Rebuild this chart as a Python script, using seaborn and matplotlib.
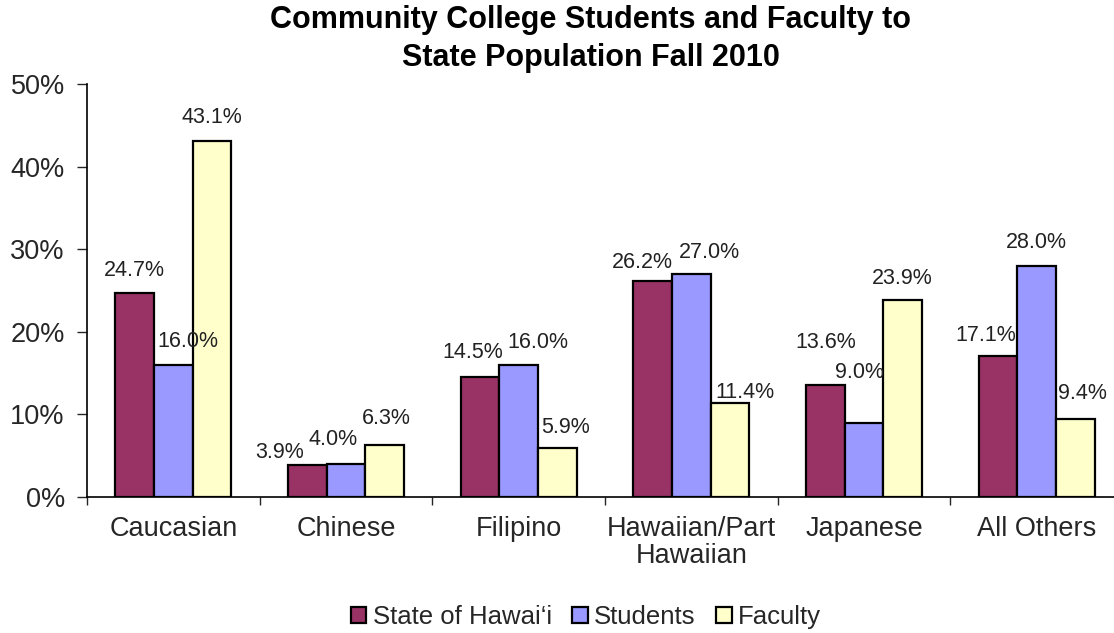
import matplotlib
matplotlib.use("Agg")
import matplotlib.pyplot as plt
import seaborn as sns
import pandas as pd
import numpy as np
from matplotlib.patches import Patch

categories = ["Caucasian", "Chinese", "Filipino", "Hawaiian/Part\nHawaiian", "Japanese", "All Others"]
series_names = ["State of Hawai\u2018i", "Students", "Faculty"]
state_vals = [24.7, 3.9, 14.5, 26.2, 13.6, 17.1]
student_vals = [16.0, 4.0, 16.0, 27.0, 9.0, 28.0]
faculty_vals = [43.1, 6.3, 5.9, 11.4, 23.9, 9.4]
colors = ["#993366", "#9999FF", "#FFFFCC"]

# label placement tweaks (pixels, relative to bar top centre), per series
label_dx = [[0, -28, -7, -10, 0, -12],
            [15, -13, 19, 18, -5, 0],
            [0, 2, 8, 15, 0, 7]]
label_dy = [[22, 12, 25, 18, 42, 20],
            [23, 24, 22, 21, 50, 23],
            [23, 26, 21, 10, 21, 26]]

rows = []
for name, vals in zip(series_names, [state_vals, student_vals, faculty_vals]):
    for c, v in zip(categories, vals):
        rows.append({"cat": c, "series": name, "val": v})
df = pd.DataFrame(rows)

sns.set_style("white")
plt.rcParams['font.family'] = ['Liberation Sans', 'DejaVu Sans']

fig = plt.figure(figsize=(11.14, 6.33), dpi=100)
ax = fig.add_axes([87 / 1114, 1 - 497 / 633, 1036 / 1114, 413 / 633])

sns.barplot(data=df, x="cat", y="val", hue="series", palette=colors,
            edgecolor="black", linewidth=1.6, width=0.67, ax=ax, legend=False,
            saturation=1)

for si, cont in enumerate(ax.containers):
    for ci, bar in enumerate(cont):
        h = bar.get_height()
        ax.annotate(f"{h:.1f}%", (bar.get_x() + bar.get_width() / 2, h),
                    xytext=(label_dx[si][ci], label_dy[si][ci]), textcoords="offset pixels",
                    ha="center", va="center", fontsize=15.5, color="#222222")

ax.set_xlim(-0.5, 5.5)
ax.set_ylim(0, 50)
ax.set_yticks([0, 10, 20, 30, 40, 50])
ax.set_yticklabels([f"{v}%" for v in [0, 10, 20, 30, 40, 50]], fontsize=19.5)
ax.set_xticks(range(len(categories)))
ax.set_xticklabels(categories, fontsize=19.5, linespacing=1.05)
ax.set_xticks(np.arange(-0.5, 6.0, 1.0), minor=True)
ax.tick_params(axis="x", which="major", length=0, pad=14)
ax.tick_params(axis="x", which="minor", length=6, width=1, direction="out", bottom=True)
ax.tick_params(axis="y", length=7, width=1, direction="out", left=True, pad=9)
ax.set_xlabel("")
ax.set_ylabel("")
for s in ["top", "right"]:
    ax.spines[s].set_visible(False)
for s in ["left", "bottom"]:
    ax.spines[s].set_color("black")
    ax.spines[s].set_linewidth(1.2)

fig.text(591 / 1114, 1 - 39 / 633,
         "Community College Students and Faculty to\nState Population Fall 2010",
         fontsize=22, fontweight="bold", ha="center", va="center", color="black",
         linespacing=1.35)

handles = [Patch(facecolor=c, edgecolor="black", linewidth=1.6, label=n)
           for c, n in zip(colors, series_names)]
fig.legend(handles=handles, loc="center", bbox_to_anchor=(586 / 1114, 1 - 617 / 633), ncol=3,
           frameon=False, fontsize=18.5, handlelength=0.6, handleheight=0.6,
           handletextpad=0.25, columnspacing=0.8, borderpad=0)

fig.savefig("out.png", dpi=100)
